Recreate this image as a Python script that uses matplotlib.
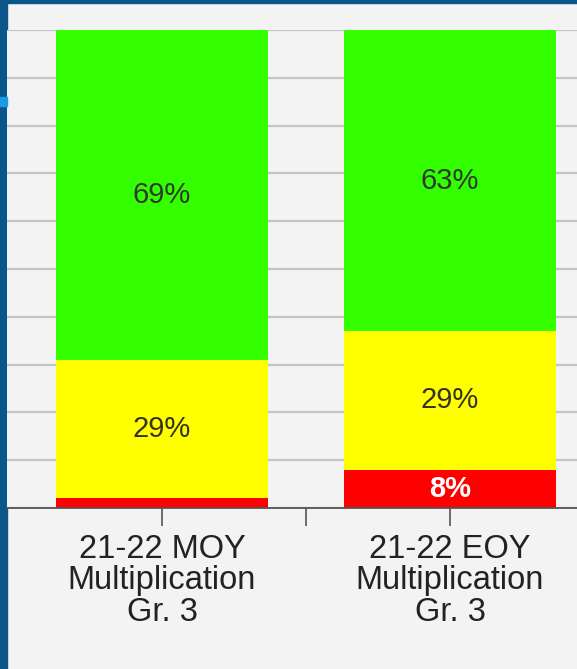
import matplotlib
matplotlib.use("Agg")
import matplotlib.pyplot as plt
from matplotlib.patches import Rectangle

categories = ["21-22 MOY\nMultiplication\nGr. 3", "21-22 EOY\nMultiplication\nGr. 3"]
red_vals = [2, 8]
yellow_vals = [29, 29]
green_vals = [69, 63]
red_labels = ["", "8%"]
yellow_labels = ["29%", "29%"]
green_labels = ["69%", "63%"]
y_ticks = [0, 10, 20, 30, 40, 50, 60, 70, 80, 90, 100]

W, H = 577, 669
fig = plt.figure(figsize=(W / 100, H / 100), dpi=100)
fig.patch.set_facecolor("#f3f3f4")

# blue frame pieces of the screenshot
fig.add_artist(Rectangle((0, 0), 7 / W, 1, transform=fig.transFigure, color="#0b5688", zorder=0))
fig.add_artist(Rectangle((0, 1 - 3 / H), 1, 3 / H, transform=fig.transFigure, color="#0b5688", zorder=0))
fig.add_artist(Rectangle((0, 1 - 106 / H), 7 / W, 9 / H, transform=fig.transFigure, color="#1a9be6", zorder=1))

ax = fig.add_axes([7 / W, (H - 508) / H, 570 / W, (508 - 30) / H])
ax.set_facecolor("#f3f3f4")
ax.set_xlim(-0.538, 1.441)
ax.set_ylim(0, 100)

x = list(range(len(categories)))
width = 0.735
bottom_y = [r for r in red_vals]
bottom_g = [r + y for r, y in zip(red_vals, yellow_vals)]
b_red = ax.bar(x, red_vals, width, color="#ff0000", zorder=3)
b_yel = ax.bar(x, yellow_vals, width, bottom=bottom_y, color="#ffff00", zorder=3)
b_grn = ax.bar(x, green_vals, width, bottom=bottom_g, color="#33ff00", zorder=3)

font = "Liberation Sans"
ax.bar_label(b_grn, labels=green_labels, label_type="center", fontsize=21,
             color="#2b3a2b", family=font, zorder=4)
ax.bar_label(b_yel, labels=yellow_labels, label_type="center", fontsize=21,
             color="#33331f", family=font, zorder=4)
ax.bar_label(b_red, labels=red_labels, label_type="center", fontsize=21,
             color="white", family=font, fontweight="bold", zorder=4)

ax.set_yticks(y_ticks)
ax.yaxis.grid(True, color="#c4c4c4", linewidth=1.6, zorder=0)
ax.tick_params(axis="y", left=False, labelleft=False)
ax.set_axisbelow(True)

ax.set_xticks(x)
ax.set_xticklabels(categories, fontsize=23.5, family=font, color="#222222", linespacing=1.02)
ax.set_xticks([0.5], minor=True)
ax.tick_params(axis="x", which="major", length=13, width=1.2, color="#555555", pad=5.5)
ax.tick_params(axis="x", which="minor", length=13, width=1.2, color="#555555")

for s in ["top", "right", "left"]:
    ax.spines[s].set_visible(False)
ax.spines["bottom"].set_color("#555555")
ax.spines["bottom"].set_linewidth(1.3)
ax.spines["bottom"].set_zorder(5)

fig.savefig("out.png", dpi=100, facecolor=fig.get_facecolor())
